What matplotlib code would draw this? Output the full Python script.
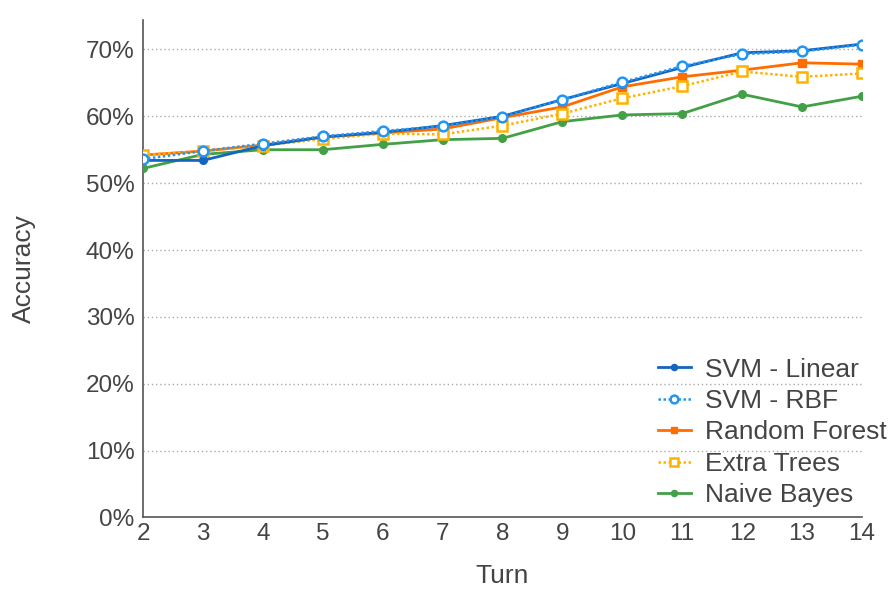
import matplotlib
matplotlib.use("Agg")
import matplotlib.pyplot as plt
from matplotlib.ticker import PercentFormatter

turns = [2, 3, 4, 5, 6, 7, 8, 9, 10, 11, 12, 13, 14]
svm_linear = [53.4, 53.4, 55.6, 56.9, 57.6, 58.6, 60.0, 62.5, 64.9, 67.3, 69.5, 69.8, 70.8]
svm_rbf = [53.6, 54.8, 55.9, 57.0, 57.8, 58.5, 59.9, 62.5, 65.1, 67.5, 69.3, 69.7, 70.7]
random_forest = [54.2, 54.8, 55.7, 56.9, 57.5, 58.1, 59.8, 61.4, 64.4, 65.9, 66.9, 68.0, 67.8]
extra_trees = [54.2, 54.8, 55.6, 56.6, 57.4, 57.3, 58.6, 60.4, 62.7, 64.5, 66.7, 65.9, 66.4]
naive_bayes = [52.2, 54.3, 55.0, 55.0, 55.8, 56.5, 56.7, 59.2, 60.2, 60.4, 63.3, 61.4, 63.0]
y_ticks = [0, 10, 20, 30, 40, 50, 60, 70]

plt.rcParams['font.family'] = ['Liberation Sans', 'DejaVu Sans']
text_color = '#444444'

fig = plt.figure(figsize=(8.96, 5.97), dpi=100)
ax = fig.add_axes([0.1596, 0.1332, 0.8024, 0.8333])

ax.plot(turns, svm_linear, color='#1565C0', lw=2.0, marker='o', ms=5.5, label='SVM - Linear', zorder=5)
ax.plot(turns, svm_rbf, color='#2196F3', lw=1.8, ls=(0, (1, 1)), marker='o', ms=7,
        mfc='white', mew=1.8, label='SVM - RBF', zorder=6)
ax.plot(turns, random_forest, color='#FF6D00', lw=2.0, marker='s', ms=5.5, label='Random Forest', zorder=4)
ax.plot(turns, extra_trees, color='#FFB300', lw=1.8, ls=(0, (1, 1)), marker='s', ms=7,
        mfc='white', mew=1.8, label='Extra Trees', zorder=4)
ax.plot(turns, naive_bayes, color='#43A047', lw=2.0, marker='o', ms=5.5, label='Naive Bayes', zorder=3)

ax.set_xlim(2, 14)
ax.set_ylim(0, 74.4)
ax.set_xticks(turns)
ax.set_yticks(y_ticks)
ax.yaxis.set_major_formatter(PercentFormatter(decimals=0))
ax.tick_params(length=0, labelsize=17.5, colors=text_color, pad=6)
ax.tick_params(axis='x', pad=4)
for s in ['top', 'right']:
    ax.spines[s].set_visible(False)
for s in ['left', 'bottom']:
    ax.spines[s].set_color('#555555')
    ax.spines[s].set_linewidth(1.2)

for v in y_ticks[1:]:
    ax.axhline(v, color='#aaaaaa', lw=1, ls=(0, (1, 2)), zorder=1)

ax.set_xlabel('Turn', fontsize=19, color=text_color, labelpad=14)
ax.set_ylabel('Accuracy', fontsize=19, color=text_color, labelpad=36)

leg = ax.legend(loc='lower right', bbox_to_anchor=(1.068, -0.027), frameon=False, fontsize=19,
                handlelength=1.25, handletextpad=0.55, labelspacing=0.28, markerscale=0.8,
                labelcolor=text_color)

fig.savefig('out.png', dpi=100)
